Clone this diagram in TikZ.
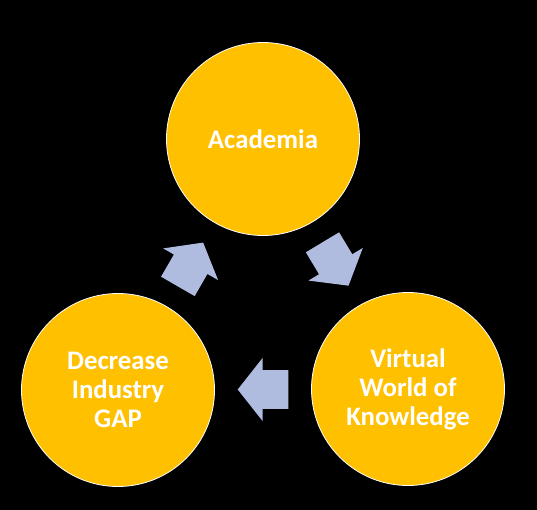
\documentclass[tikz,border=0pt]{standalone}
\usepackage{fontspec}
\setmainfont{Carlito}
\usetikzlibrary{calc}

\definecolor{cycleorange}{RGB}{255,192,0}
\definecolor{cycleblue}{RGB}{175,188,224}

\tikzset{
  stage/.style={circle, draw=white, line width=0.8pt, fill=cycleorange,
    minimum size=193pt, inner sep=0pt, text=white, align=center,
    font=\fontsize{26.8}{29}\selectfont\bfseries},
  cyclearrow/.pic={\fill[cycleblue] (-25.3,-19.4) -- (0.3,-19.4) -- (0.3,-31.7) -- (25.3,0)
    -- (0.3,31.7) -- (0.3,19.4) -- (-25.3,19.4) -- cycle;}
}

\begin{document}
\begin{tikzpicture}[x=1pt,y=-1pt]

%BACKGROUND
\fill[black] (0,0) rectangle (537,510);
\useasboundingbox (0,0) rectangle (537,510);

%CIRCLES
\node[stage] (acad) at (263,139) {Academia};
\node[stage] (virt) at (408,389) {Virtual\\World of\\Knowledge};
\node[stage] (gap) at (118,390) {Decrease\\Industry\\GAP};

%ARROWS
% academia to virtual world
\pic[rotate=-59] at ($(acad)!0.5!(virt)$) {cyclearrow};
% virtual world to industry gap
\pic[rotate=180] at ($(virt)!0.5!(gap)$) {cyclearrow};
% industry gap to academia
\pic[rotate=60] at ($(gap)!0.5!(acad)$) {cyclearrow};

\end{tikzpicture}
\end{document}
